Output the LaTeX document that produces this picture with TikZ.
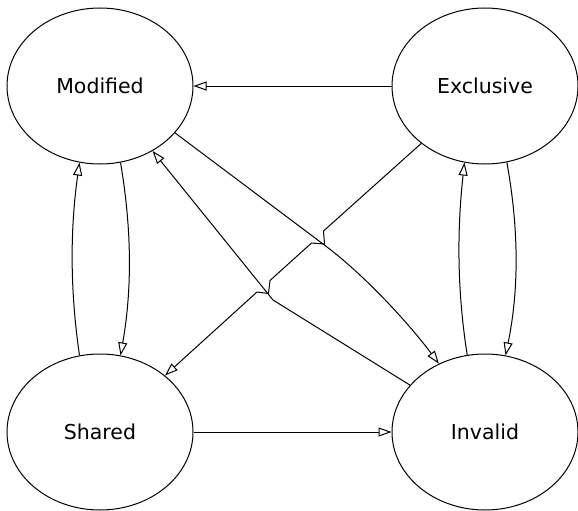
\documentclass[tikz,border=0pt]{standalone}
\usepackage{fontspec}
\setmainfont{DejaVu Sans}
\usetikzlibrary{arrows.meta,shapes.geometric}
\begin{document}
\begin{tikzpicture}[x=1pt,y=-1pt,line join=round,
  state/.style={ellipse,draw,line width=1pt,minimum width=186pt,minimum height=156pt,
    inner sep=0pt,font=\fontsize{20.5}{24}\selectfont},
  edge/.style={line width=1pt,-{Triangle[open,length=13pt,width=9pt,line width=1pt]}}]
\useasboundingbox (0,0) rectangle (578,511);

% the four MESI states
\node[state] (mod) at (100,86)  {Modified};
\node[state] (exc) at (485,86)  {Exclusive};
\node[state] (shd) at (100,432) {Shared};
\node[state] (inv) at (485,432) {Invalid};

% straight horizontal transitions
\draw[edge] (exc) -- (mod);
\draw[edge] (shd) -- (inv);

% paired vertical transitions
\draw[edge] (mod.-75) .. controls (132,230) and (132,290) .. (shd.75);
\draw[edge] (shd.105) .. controls (70,290) and (70,230) .. (mod.-105);
\draw[edge] (exc.-74) .. controls (519,230) and (519,290) .. (inv.75);
\draw[edge] (inv.103) .. controls (457,290) and (457,230) .. (exc.-105);

% Modified -> Invalid
\coordinate (x1) at (323,244);
\draw[edge] (mod.-32) -- (x1) .. controls (365,275) and (410,325) .. (inv.124);

% Invalid -> Modified
\coordinate (kb) at (273,300);
\draw[edge] (inv.148.6) -- (kb) -- (mod.-51);

% Exclusive -> Shared, with jogs at the two crossings
\coordinate (ja) at (323.5,231);
\coordinate (jb) at (324.5,244);
\coordinate (jc) at (311.5,243);
\coordinate (jd) at (270,280.5);
\coordinate (je) at (268.5,293.5);
\coordinate (jf) at (257,292);
\draw[edge] (exc.-138) -- (ja) -- (jb) -- (jc) -- (jd) -- (je) -- (jf) -- (shd.41);
\end{tikzpicture}
\end{document}
